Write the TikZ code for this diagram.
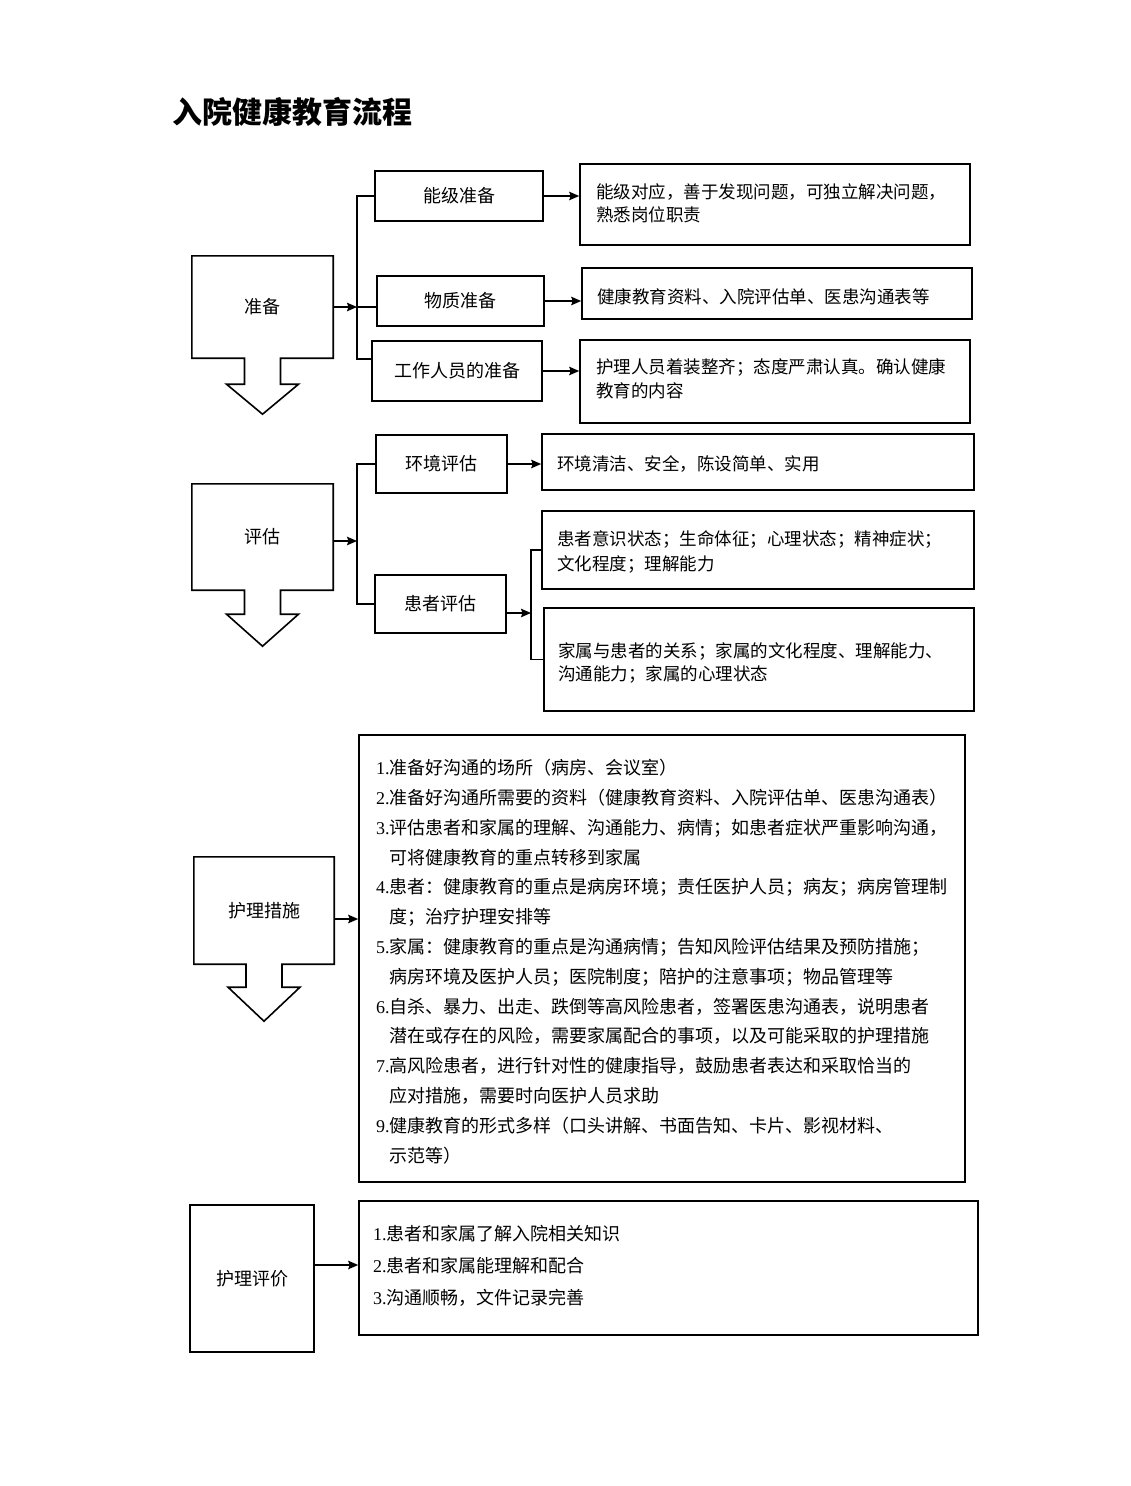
\documentclass[tikz,border=0pt]{standalone}
\usepackage{fontspec}
\setmainfont{Noto Sans CJK SC}
\newfontfamily\numfont{Liberation Serif}
\usetikzlibrary{arrows.meta}
\newcommand\nm[1]{{\numfont #1}}
\newcommand\fs[2]{\fontsize{#1}{#2}\selectfont}
\newcommand\ind{\hphantom{\nm{3.}}}
% #1 node, #2 stem length, #3 head length
\newcommand\downshape[3]{%
  \draw[outl] (#1.north west) -- (#1.north east) -- (#1.south east)
    -- ([xshift=18pt]#1.south) -- ++(0,#2) -- ++(18,0) -- ++(-36,#3)
    -- ++(-36,-#3) -- ++(18,0) -- ++(0,-#2) -- (#1.south west) -- cycle;}
\begin{document}
\begin{tikzpicture}[x=1pt,y=-1pt,
  box/.style={draw,line width=1.6pt,inner sep=0pt},
  sect/.style={inner sep=0pt,font=\fs{18}{22}},
  lbl/.style={box,font=\fs{18}{22}},
  txt/.style={align=left,inner sep=0pt,anchor=north west},
  conn/.style={line width=1.6pt},
  arr/.style={conn,-{Stealth[length=10pt,width=8.5pt,inset=1.5pt]}},
  outl/.style={draw,line width=1.6pt,line join=miter}]
\useasboundingbox (0,0) rectangle (1131,1486);

% title
\node[anchor=west,inner sep=0pt,font=\fs{30}{36}\bfseries] (title) at (172,112) {入院健康教育流程};

% ---------- section 1 ----------
\node[sect,minimum width=141pt,minimum height=102pt] (prep) at (262.5,307) {准备};
\downshape{prep}{26}{30}
\node[lbl,minimum width=168pt,minimum height=50pt] (b1) at (459,196) {能级准备};
\node[lbl,minimum width=167pt,minimum height=50pt] (b2) at (460.5,301) {物质准备};
\node[lbl,minimum width=170pt,minimum height=60pt] (b3) at (457,371) {工作人员的准备};
\node[box,minimum width=390pt,minimum height=81pt] (r1) at (775,204.5) {};
\node[box,minimum width=390pt,minimum height=51pt] (r2) at (777,293.5) {};
\node[box,minimum width=390pt,minimum height=83pt] (r3) at (775,381.5) {};
\node[txt,font=\fs{17.5}{23.5}] (t1) at (596,183) {能级对应，善于发现问题，可独立解决问题，\\熟悉岗位职责};
\node[txt,font=\fs{17.5}{23.5}] (t2) at (597,288) {健康教育资料、入院评估单、医患沟通表等};
\node[txt,font=\fs{17.5}{24}] (t3) at (596,358) {护理人员着装整齐；态度严肃认真。确认健康\\教育的内容};

\coordinate (k1) at (357,307);
\coordinate (k1t) at (357,196);
\coordinate (k1b) at (357,359);
\draw[arr] (prep.east) -- (k1);
\draw[conn] (b1.west) -- (k1t) -- (k1b) -- (k1b -| b3.west);
\draw[conn] (k1) -- (k1 -| b2.west);
\draw[arr] (b1.east) -- (b1.east -| r1.west);
\draw[arr] (b2.east) -- (b2.east -| r2.west);
\draw[arr] (b3.east) -- (b3.east -| r3.west);

% ---------- section 2 ----------
\node[sect,minimum width=141pt,minimum height=106pt] (ass) at (262.5,537) {评估};
\downshape{ass}{24}{32}
\node[lbl,minimum width=131pt,minimum height=58pt] (c1) at (441.5,464) {环境评估};
\node[lbl,minimum width=131pt,minimum height=58pt] (c2) at (440.5,604) {患者评估};
\node[box,minimum width=432pt,minimum height=56pt] (e1) at (758,462) {};
\node[box,minimum width=432pt,minimum height=78pt] (pA) at (758,550) {};
\node[box,minimum width=430pt,minimum height=103pt] (pB) at (759,659.5) {};
\node[txt,font=\fs{17.5}{23.5}] (te) at (557,455) {环境清洁、安全，陈设简单、实用};
\node[txt,font=\fs{17.5}{25}] (tA) at (557,530) {患者意识状态；生命体征；心理状态；精神症状；\\文化程度；理解能力};
\node[txt,font=\fs{17.5}{23.5}] (tB) at (558,642) {家属与患者的关系；家属的文化程度、理解能力、\\沟通能力；家属的心理状态};

\coordinate (k2) at (357,541);
\draw[arr] (ass.east |- k2) -- (k2);
\draw[conn] (c1.west) -- (c1.west -| k2) -- (c2.west -| k2) -- (c2.west);
\draw[arr] (c1.east) -- (c1.east -| e1.west);
\coordinate (k3) at (531,613);
\draw[arr] (c2.east |- k3) -- (k3);
\draw[conn] (pA.west) -- (pA.west -| k3) -- (pB.west -| k3) -- (pB.west);

% ---------- section 3 ----------
\node[sect,minimum width=140pt,minimum height=107pt] (nm) at (264,910.5) {护理措施};
\downshape{nm}{23}{34}
\node[box,minimum width=606pt,minimum height=447pt] (main) at (662,958.5) {};
\node[txt,font=\fs{18}{29.8}] (tm) at (376,759) {%
\nm{1.}准备好沟通的场所（病房、会议室）\\
\nm{2.}准备好沟通所需要的资料（健康教育资料、入院评估单、医患沟通表）\\
\nm{3.}评估患者和家属的理解、沟通能力、病情；如患者症状严重影响沟通，\\
\ind 可将健康教育的重点转移到家属\\
\nm{4.}患者：健康教育的重点是病房环境；责任医护人员；病友；病房管理制\\
\ind 度；治疗护理安排等\\
\nm{5.}家属：健康教育的重点是沟通病情；告知风险评估结果及预防措施；\\
\ind 病房环境及医护人员；医院制度；陪护的注意事项；物品管理等\\
\nm{6.}自杀、暴力、出走、跌倒等高风险患者，签署医患沟通表，说明患者\\
\ind 潜在或存在的风险，需要家属配合的事项，以及可能采取的护理措施\\
\nm{7.}高风险患者，进行针对性的健康指导，鼓励患者表达和采取恰当的\\
\ind 应对措施，需要时向医护人员求助\\
\nm{9.}健康教育的形式多样（口头讲解、书面告知、卡片、影视材料、\\
\ind 示范等）};
\draw[arr] ([yshift=-8.5pt]nm.east) -- ([yshift=-8.5pt]nm.east -| main.west);

% ---------- section 4 ----------
\node[lbl,minimum width=124pt,minimum height=147pt] (ev) at (252,1278.5) {护理评价};
\node[box,minimum width=619pt,minimum height=134pt] (evbox) at (668.5,1268) {};
\node[txt,font=\fs{18}{32}] (tev) at (373,1225) {%
\nm{1.}患者和家属了解入院相关知识\\
\nm{2.}患者和家属能理解和配合\\
\nm{3.}沟通顺畅，文件记录完善};
\draw[arr] ([yshift=13.5pt]ev.east) -- ([yshift=13.5pt]ev.east -| evbox.west);
\end{tikzpicture}
\end{document}
